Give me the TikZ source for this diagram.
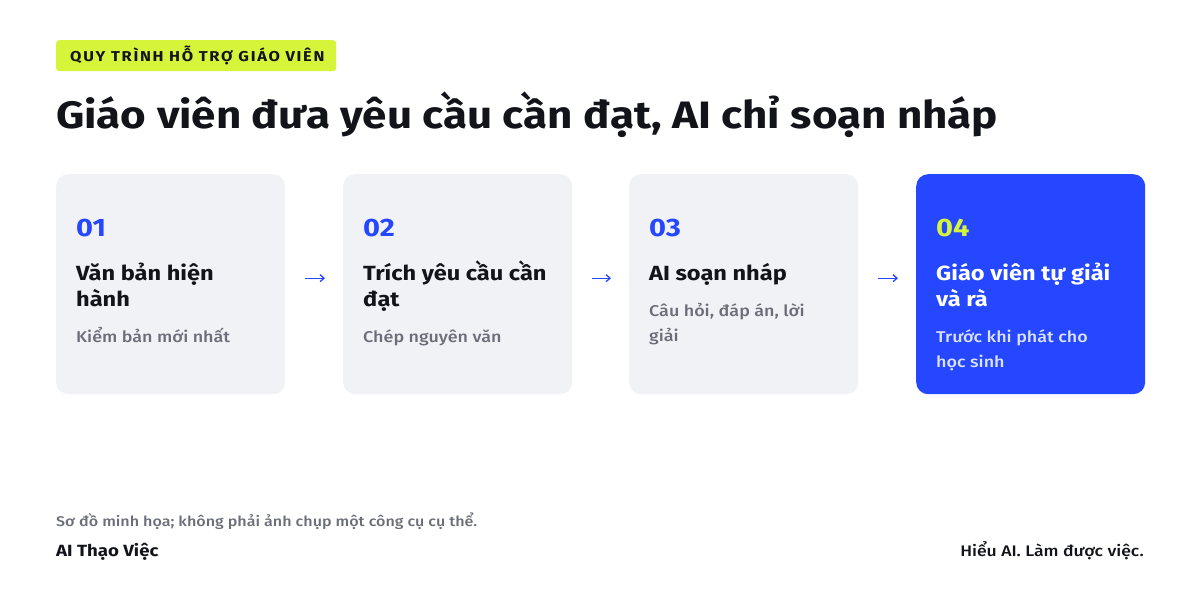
\documentclass[tikz,border=0pt]{standalone}
\usepackage{fontspec}
\setmainfont{Fira Sans}[FakeStretch=1.15]
\newfontfamily\medfont{Fira Sans Medium}[FakeStretch=1.15]
\usetikzlibrary{arrows.meta}
\definecolor{lime}{HTML}{D6F53A}
\definecolor{brand}{HTML}{2447FF}
\definecolor{cardbg}{HTML}{F1F2F6}
\definecolor{ink}{HTML}{12141A}
\definecolor{muted}{HTML}{6B6E78}
\definecolor{soft}{HTML}{DCE2FF}
\tikzset{
  card/.style={fill=cardbg, rounded corners=12pt, minimum width=229pt, minimum height=220pt, anchor=north west, inner sep=0pt},
  cardhi/.style={card, fill=brand},
  num/.style={anchor=base west, inner sep=0pt, font=\fontsize{25.2}{30}\selectfont\bfseries, text=brand},
  ttl/.style={anchor=base west, inner sep=0pt, font=\fontsize{20.5}{24}\selectfont\bfseries, text=ink},
  sub/.style={anchor=base west, inner sep=0pt, font=\fontsize{15.6}{20}\selectfont\medfont, text=muted},
  flow/.style={draw=brand, line width=1.3pt, -{Straight Barb[length=4pt,width=7pt]}},
}
\begin{document}
\begin{tikzpicture}[x=1pt,y=-1pt]
\useasboundingbox[fill=white] (0,0) rectangle (1200,600);
% tag
\node[fill=lime, rounded corners=3pt, anchor=north west, minimum width=280pt, minimum height=31pt, inner sep=0pt] (tag) at (56,40) {};
\node[anchor=base west, inner sep=0pt, font=\fontsize{14.3}{16}\selectfont\bfseries\addfontfeatures{LetterSpace=12}, text=ink] (tagtxt) at (70,61) {QUY TRÌNH HỖ TRỢ GIÁO VIÊN};
% title
\node[anchor=base west, inner sep=0pt, font=\fontsize{38.2}{46}\selectfont\bfseries, text=ink] (title) at (56,128) {Giáo viên đưa yêu cầu cần đạt, AI chỉ soạn nháp};
% cards
\node[card] (c1) at (56,174) {};
\node[card] (c2) at (343,174) {};
\node[card] (c3) at (629,174) {};
\node[cardhi] (c4) at (916,174) {};
% card 1
\node[num] (n1) at (76,236) {01};
\node[ttl] (t1a) at (76,280) {Văn bản hiện};
\node[ttl] (t1b) at (76,306) {hành};
\node[sub] (s1a) at (76,342) {Kiểm bản mới nhất};
% card 2
\node[num] (n2) at (363,236) {02};
\node[ttl] (t2a) at (363,280) {Trích yêu cầu cần};
\node[ttl] (t2b) at (363,306) {đạt};
\node[sub] (s2a) at (363,342) {Chép nguyên văn};
% card 3
\node[num] (n3) at (649,236) {03};
\node[ttl] (t3a) at (649,280) {AI soạn nháp};
\node[sub] (s3a) at (649,316) {Câu hỏi, đáp án, lời};
\node[sub] (s3b) at (649,341) {giải};
% card 4
\node[num, text=lime] (n4) at (936,236) {04};
\node[ttl, text=white] (t4a) at (936,280) {Giáo viên tự giải};
\node[ttl, text=white] (t4b) at (936,306) {và rà};
\node[sub, text=soft] (s4a) at (936,342) {Trước khi phát cho};
\node[sub, text=soft] (s4b) at (936,367) {học sinh};
% arrows
\draw[flow] ([xshift=20pt,yshift=6pt]c1.east) -- ([xshift=-18pt,yshift=6pt]c2.west);
\draw[flow] ([xshift=20pt,yshift=6pt]c2.east) -- ([xshift=-18pt,yshift=6pt]c3.west);
\draw[flow] ([xshift=20pt,yshift=6pt]c3.east) -- ([xshift=-18pt,yshift=6pt]c4.west);
% footer
\node[anchor=base west, inner sep=0pt, font=\fontsize{14}{16}\selectfont\medfont, text=muted] (note) at (56,526) {Sơ đồ minh họa; không phải ảnh chụp một công cụ cụ thể.};
\node[anchor=base west, inner sep=0pt, font=\fontsize{16.2}{18}\selectfont\bfseries, text=ink] (brandname) at (56,556) {AI Thạo Việc};
\node[anchor=base east, inner sep=0pt, font=\fontsize{15.3}{18}\selectfont\medfont, text=ink] (motto) at (1144,556) {Hiểu AI. Làm được việc.};
\end{tikzpicture}
\end{document}
